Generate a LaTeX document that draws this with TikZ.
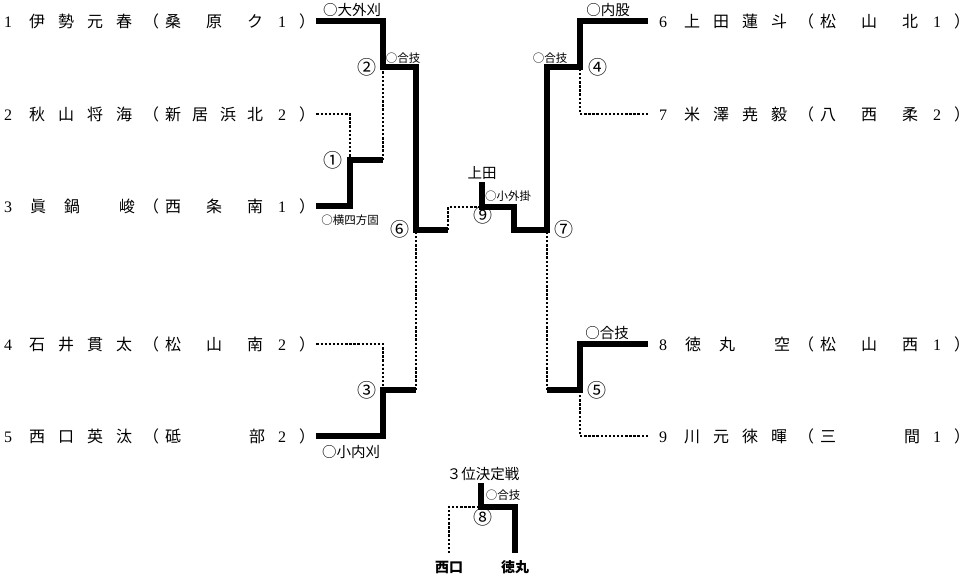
\documentclass[tikz,border=0pt]{standalone}
\usepackage{fontspec}
\setmainfont{Liberation Serif}
\newfontfamily\cjk{Noto Sans CJK JP}
\newcommand\at[2]{\rlap{\hspace*{#1}\makebox[0pt]{#2}}}
\newcommand\dg[1]{{\rmfamily #1}}
\newcommand\nmf[4]{\at{37pt}{#1}\at{66pt}{#2}\at{95pt}{#3}\at{124pt}{#4}}
\newcommand\nmt[3]{\at{38pt}{#1}\at{72pt}{#2}\at{127pt}{#3}}
\newcommand\scf[4]{\at{173pt}{#1}\at{200pt}{#2}\at{228pt}{#3}\at{255pt}{#4}}
\newcommand\sct[3]{\at{173pt}{#1}\at{214pt}{#2}\at{255pt}{#3}}
\newcommand\scw[2]{\at{173pt}{#1}\at{257pt}{#2}}
\newcommand\prow[4]{\at{8pt}{\dg{#1}}#2\at{151pt}{（}#3\at{282pt}{\dg{#4}}\at{307pt}{）}}
\newcommand\lft[1]{\makebox[316pt][l]{#1}}
\newcommand\rgt[1]{\makebox[331pt][l]{\hspace*{7pt}#1}}
\tikzset{
  prow/.style={anchor=west, inner sep=0pt, font=\cjk\fontsize{16}{16}\selectfont},
  lab/.style={inner sep=0pt, font=\cjk\fontsize{14.5}{15}\selectfont},
  slab/.style={inner sep=0pt, font=\cjk\fontsize{11.5}{12}\selectfont},
  cnum/.style={inner sep=0pt, font=\cjk\fontsize{19}{19}\selectfont},
  win/.style={line width=6pt, line join=miter},
  lose/.style={line width=2.8pt, dash pattern=on 2.4pt off 1.7pt},
}
\begin{document}
\begin{tikzpicture}[x=1pt,y=-1pt]
\useasboundingbox (0,0) rectangle (979,583);
% player rows
\node[prow] (r1) at (0,21) {\lft{\prow{1}{\nmf{伊}{勢}{元}{春}}{\sct{桑}{原}{ク}}{1}}};
\node[prow] (r2) at (0,114) {\lft{\prow{2}{\nmf{秋}{山}{将}{海}}{\scf{新}{居}{浜}{北}}{2}}};
\node[prow] (r3) at (0,206) {\lft{\prow{3}{\nmt{眞}{鍋}{峻}}{\sct{西}{条}{南}}{1}}};
\node[prow] (r4) at (0,344) {\lft{\prow{4}{\nmf{石}{井}{貫}{太}}{\sct{松}{山}{南}}{2}}};
\node[prow] (r5) at (0,436) {\lft{\prow{5}{\nmf{西}{口}{英}{汰}}{\scw{砥}{部}}{2}}};
\node[prow] (r6) at (648,21) {\rgt{\prow{6}{\nmf{上}{田}{蓮}{斗}}{\sct{松}{山}{北}}{1}}};
\node[prow] (r7) at (648,114) {\rgt{\prow{7}{\nmf{米}{澤}{尭}{毅}}{\sct{八}{西}{柔}}{2}}};
\node[prow] (r8) at (648,344) {\rgt{\prow{8}{\nmt{徳}{丸}{空}}{\sct{松}{山}{西}}{1}}};
\node[prow] (r9) at (648,436) {\rgt{\prow{9}{\nmf{川}{元}{徠}{暉}}{\scw{三}{間}}{1}}};
% junctions
\coordinate (m1) at (350,160);
\coordinate (m1o) at (383,160);
\coordinate (m2) at (383,67);
\coordinate (m2o) at (416,67);
\coordinate (m3) at (383,390);
\coordinate (m3o) at (416,390);
\coordinate (m6) at (416,230);
\coordinate (m6o) at (448,230);
\coordinate (m4) at (580,67);
\coordinate (m4o) at (547,67);
\coordinate (m5) at (580,390);
\coordinate (m5o) at (547,390);
\coordinate (m7) at (547,230);
\coordinate (m7o) at (514,230);
\coordinate (m9) at (482,207);
\coordinate (m9r) at (514,207);
\coordinate (m8) at (481,507);
% champion and third place texts
\node[lab, outer sep=3pt] (champ) at (482,173) {上田};
\node[lab, outer sep=2.5pt] (third) at (483,474) {３位決定戦};
\node[inner sep=0pt, outer sep=7.5pt, font=\cjk\bfseries\fontsize{14}{14}\selectfont] (nishi) at (449,567) {西口};
\node[inner sep=0pt, outer sep=7.5pt, font=\cjk\bfseries\fontsize{14}{14}\selectfont] (toku) at (515,567) {徳丸};
% losers
\draw[lose] (r2.east) -| (m1);
\draw[lose] (m1o) -- (m2);
\draw[lose] (r4.east) -| (m3);
\draw[lose] (m3o) -- (m6);
\draw[lose] (r7.west) -| (m4);
\draw[lose] (r9.west) -| (m5);
\draw[lose] (m5o) -- (m7);
\draw[lose] (m6o) |- (m9);
\draw[lose] (nishi.north) |- (m8);
% winners
\draw[win] (r3.east) -| (m1) -- (m1o);
\draw[win] (r1.east) -| (m2) -- (m2o) -- (m6) -- (m6o);
\draw[win] (r5.east) -| (m3) -- (m3o);
\draw[win] (r8.west) -| (m5) -- (m5o);
\draw[win] (r6.west) -| (m4) -- (m4o) -- (m7) -- (m7o) -- (m9r) -- (m9) -- (m9 |- champ.south);
\draw[win] (toku.north) |- (m8) -- (m8 |- third.south);
% technique labels and match numbers
\node[lab] (t1) at (352,10) {○大外刈};
\node[slab] (t2) at (403,58) {○合技};
\node[slab] (t3) at (350,220) {○横四方固};
\node[lab] (t4) at (351,452) {○小内刈};
\node[slab] (t5) at (508,196) {○小外掛};
\node[slab] (t6) at (550,58) {○合技};
\node[lab] (t7) at (608,10) {○内股};
\node[lab] (t8) at (607,333) {○合技};
\node[slab] (t9) at (503,495) {○合技};
\node[cnum] (n1) at (333,160) {①};
\node[cnum] (n2) at (367,67) {②};
\node[cnum] (n3) at (367,390) {③};
\node[cnum] (n4) at (598,67) {④};
\node[cnum] (n5) at (597,390) {⑤};
\node[cnum] (n6) at (400,229) {⑥};
\node[cnum] (n7) at (564,229) {⑦};
\node[cnum] (n8) at (483,517) {⑧};
\node[cnum] (n9) at (483,215) {⑨};
\end{tikzpicture}
\end{document}
